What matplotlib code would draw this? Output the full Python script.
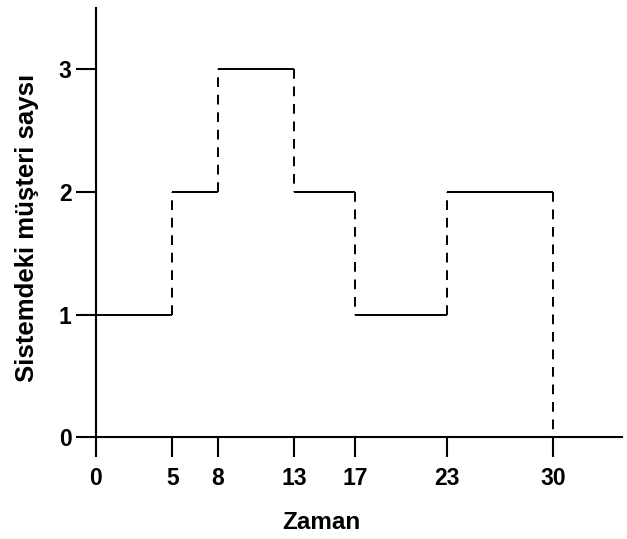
import matplotlib
matplotlib.use("Agg")
import matplotlib.pyplot as plt

# Veri: zaman anlari ve sistemdeki musteri sayisi
zaman = [0, 5, 8, 13, 17, 23, 30]
musteri = [1, 2, 3, 2, 1, 2, 0]
y_ticks = [0, 1, 2, 3]

plt.rcParams['font.family'] = ['Liberation Sans', 'DejaVu Sans']

fig = plt.figure(figsize=(6.27, 5.39), dpi=100)
ax = fig.add_axes([0.153, 0.189, 0.839, 0.796])

# yatay (duz) ve dikey (kesikli) cizgiler
for i in range(len(zaman) - 1):
    ax.plot([zaman[i], zaman[i + 1]], [musteri[i], musteri[i]],
            color='black', linewidth=1.4, solid_capstyle='butt')
for i in range(1, len(zaman)):
    ax.plot([zaman[i], zaman[i]], [musteri[i - 1], musteri[i]],
            color='black', linewidth=1.4, linestyle=(0, (5, 4)))

ax.set_xlim(0, 34.5)
ax.set_ylim(0, 3.5)
ax.set_xticks(zaman)
ax.set_yticks(y_ticks)
ax.tick_params(direction='out', length=14.5, width=1.5, labelsize=16.5)
ax.tick_params(axis='x', pad=7)
ax.tick_params(axis='y', pad=3)
for lbl in ax.get_xticklabels() + ax.get_yticklabels():
    lbl.set_fontweight('bold')

for side in ['top', 'right']:
    ax.spines[side].set_visible(False)
for side in ['left', 'bottom']:
    ax.spines[side].set_linewidth(1.5)

ax.set_xlabel('Zaman', fontsize=17.5, fontweight='bold', va='center')
ax.xaxis.set_label_coords(0.428, -0.198)
ax.set_ylabel('Sistemdeki müşteri saysı', fontsize=18.5, fontweight='bold',
              va='center')
ax.yaxis.set_label_coords(-0.131, 0.487)

fig.savefig('out.png', dpi=100)
